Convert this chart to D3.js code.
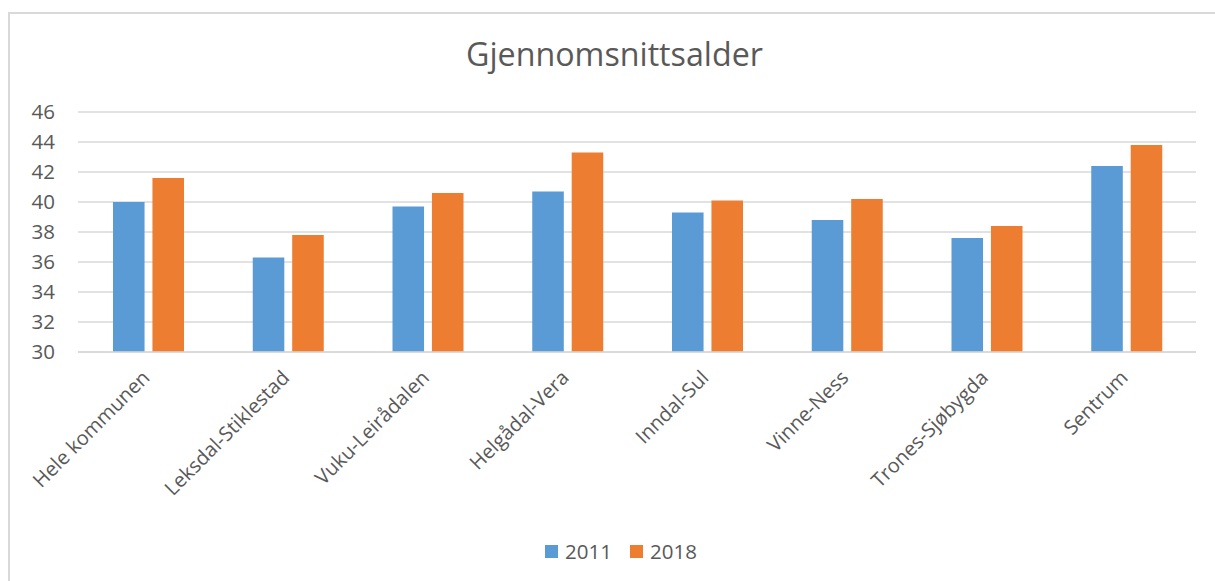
<!DOCTYPE html>
<html>
<head>
<meta charset="utf-8">
<script src="https://cdn.jsdelivr.net/npm/d3@7"></script>
<style>
  body { margin: 0; background: #fff; }
  svg { display: block; font-family: "Open Sans", "Noto Sans", sans-serif; }
</style>
</head>
<body>
<svg id="chart" width="1215" height="581"></svg>
<script>
// --- data ---
const categories = ["Hele kommunen", "Leksdal-Stiklestad", "Vuku-Leirådalen", "Helgådal-Vera",
                    "Inndal-Sul", "Vinne-Ness", "Trones-Sjøbygda", "Sentrum"];
const seriesNames = ["2011", "2018"];
const values2011 = [40.0, 36.3, 39.7, 40.7, 39.3, 38.8, 37.6, 42.4];
const values2018 = [41.6, 37.8, 40.6, 43.3, 40.1, 40.2, 38.4, 43.8];
const yTicks = [30, 32, 34, 36, 38, 40, 42, 44, 46];
const colors = ["#5B9BD5", "#ED7D31"];

const rows = categories.map((c, i) => ({ cat: c, vals: [values2011[i], values2018[i]] }));

const svg = d3.select("#chart");
const textColor = "#595959";
const gridColor = "#D9D9D9";

// chart frame
svg.append("rect")
    .attr("x", 9).attr("y", 13)
    .attr("width", 1230).attr("height", 600)
    .attr("fill", "none").attr("stroke", gridColor).attr("stroke-width", 2);

// title - shrink/grow font so the width matches the Calibri original
const title = svg.append("text")
    .attr("x", 614.5).attr("y", 66)
    .attr("text-anchor", "middle")
    .attr("fill", textColor)
    .style("font-size", "28px")
    .text("Gjennomsnittsalder");
const tw = title.node().getComputedTextLength();
if (tw > 0) title.style("font-size", (28 * 297 / tw).toFixed(2) + "px");

// scales
const plot = { left: 78, right: 1196, top: 112, bottom: 352 };
const x0 = d3.scaleBand().domain(categories).range([plot.left, plot.right]);
const x1 = d3.scaleBand().domain(seriesNames).range([35, 106]).paddingInner(0.2);
const y = d3.scaleLinear().domain([30, 46]).range([plot.bottom, plot.top]);

// gridlines
svg.append("g").selectAll("line")
    .data(yTicks)
    .join("line")
    .attr("x1", plot.left).attr("x2", plot.right)
    .attr("y1", d => y(d)).attr("y2", d => y(d))
    .attr("stroke", gridColor).attr("stroke-width", 1.5);

// y axis labels
const yAxis = svg.append("g")
    .attr("transform", `translate(${plot.left},0)`)
    .call(d3.axisLeft(y).tickValues(yTicks).tickSize(0).tickPadding(23));
yAxis.select(".domain").remove();
yAxis.selectAll("text")
    .attr("fill", textColor)
    .style("font-size", "20.5px")
    .style("font-family", "\"Open Sans\", sans-serif");

// bars
const groups = svg.append("g").selectAll("g")
    .data(rows)
    .join("g")
    .attr("transform", d => `translate(${x0(d.cat)},0)`);

groups.selectAll("rect")
    .data(d => d.vals.map((v, i) => ({ key: seriesNames[i], v, i })))
    .join("rect")
    .attr("x", d => x1(d.key))
    .attr("width", x1.bandwidth())
    .attr("y", d => y(d.v))
    .attr("height", d => y(30) - y(d.v))
    .attr("fill", d => colors[d.i]);

// baseline
svg.append("line")
    .attr("x1", plot.left).attr("x2", plot.right)
    .attr("y1", y(30)).attr("y2", y(30))
    .attr("stroke", gridColor).attr("stroke-width", 1.5);

// x labels rotated -45
const xAxis = svg.append("g")
    .attr("transform", `translate(0,${plot.bottom})`)
    .call(d3.axisBottom(x0).tickSize(0).tickPadding(0));
xAxis.select(".domain").remove();
xAxis.selectAll("text")
    .attr("fill", textColor)
    .style("font-size", "20px")
    .style("font-family", "\"Open Sans\", sans-serif")
    .attr("text-anchor", "end")
    .attr("dy", null)
    .attr("y", 0)
    .attr("transform", "translate(3,27) rotate(-45)");

// legend
const legend = svg.append("g").attr("transform", "translate(545,545)");
const legendX = [0, 85];
seriesNames.forEach((s, i) => {
    legend.append("rect")
        .attr("x", legendX[i]).attr("y", 0)
        .attr("width", 13).attr("height", 13)
        .attr("fill", colors[i]);
    legend.append("text")
        .attr("x", legendX[i] + 20).attr("y", 14)
        .attr("fill", textColor)
        .style("font-size", "20.5px")
        .text(s);
});
</script>
</body>
</html>
